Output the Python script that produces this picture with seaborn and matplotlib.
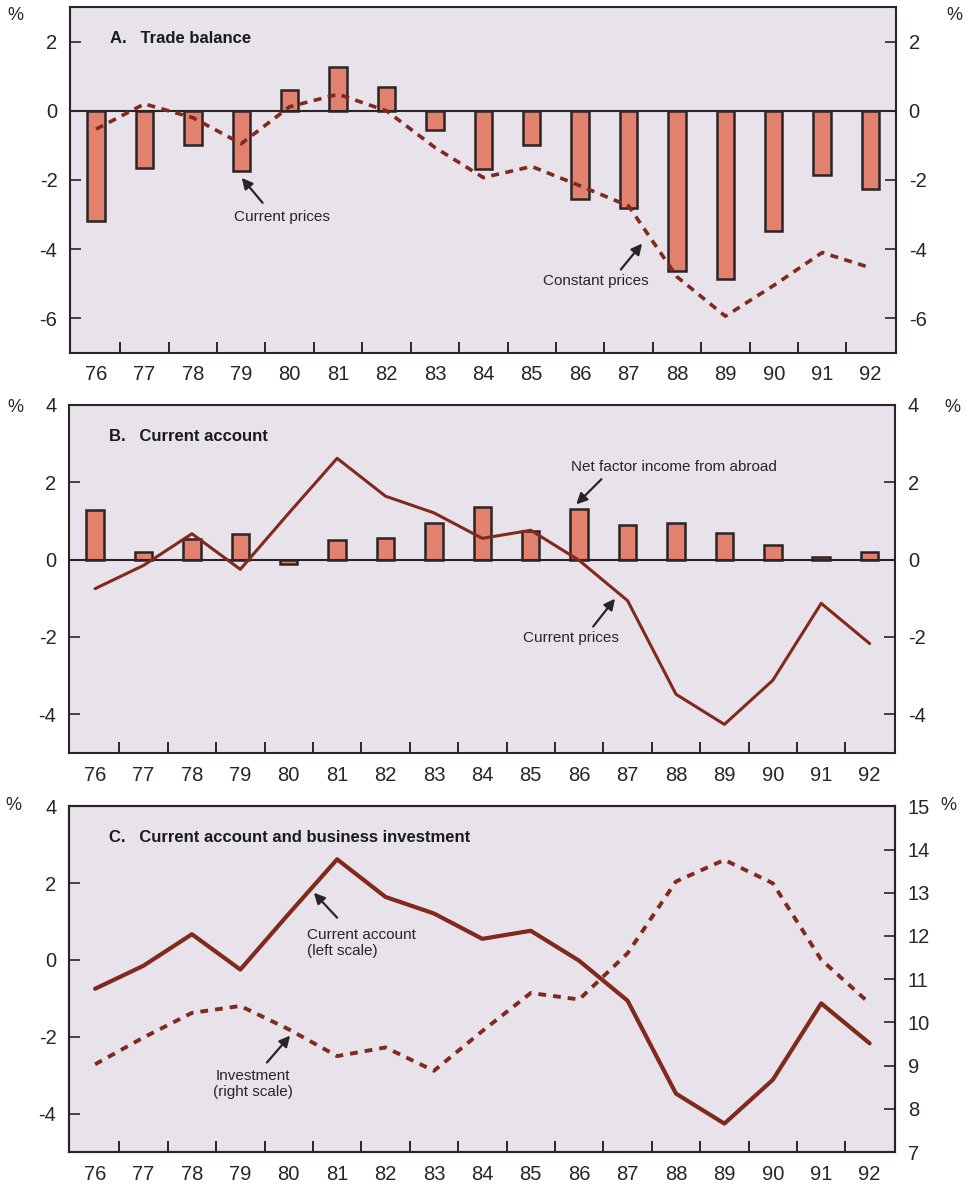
import numpy as np
import pandas as pd
import matplotlib
matplotlib.use("Agg")
import matplotlib.pyplot as plt
import seaborn as sns

# data
years = ['76', '77', '78', '79', '80', '81', '82', '83', '84',
         '85', '86', '87', '88', '89', '90', '91', '92']
trade_current = [-3.2, -1.64, -1.0, -1.74, 0.6, 1.28, 0.68, -0.56, -1.69,
                 -0.99, -2.56, -2.8, -4.64, -4.85, -3.48, -1.86, -2.25]
trade_constant = [-0.53, 0.2, -0.2, -0.95, 0.12, 0.48, 0.0, -1.06, -1.93,
                  -1.61, -2.17, -2.75, -4.8, -5.94, -5.05, -4.1, -4.54]
net_factor = [1.28, 0.21, 0.53, 0.65, -0.1, 0.5, 0.55, 0.95, 1.35,
              0.73, 1.32, 0.9, 0.94, 0.69, 0.39, 0.08, 0.21]
current_account = [-0.75, -0.15, 0.67, -0.25, 1.2, 2.62, 1.64, 1.21, 0.55,
                   0.76, -0.02, -1.06, -3.48, -4.26, -3.12, -1.13, -2.17]
investment = [9.03, 9.65, 10.22, 10.38, 9.84, 9.22, 9.42, 8.88, 9.8,
              10.68, 10.53, 11.6, 13.26, 13.76, 13.22, 11.45, 10.44]

sns.set_theme(style="white")
plt.rcParams['font.family'] = ['Liberation Sans', 'DejaVu Sans']
plt.rcParams['axes.unicode_minus'] = False

BG = '#e8e2eb'
BAR = '#e2826e'
LINE = '#80291c'
INK = '#2a2426'

df = pd.DataFrame({'year': years, 'trade': trade_current, 'const': trade_constant,
                   'nfi': net_factor, 'ca': current_account, 'inv': investment})
df['pos'] = np.arange(len(df))

fig = plt.figure(figsize=(9.71, 11.84), dpi=100)
axA = fig.add_axes([0.072, 0.702, 0.851, 0.292])
axB = fig.add_axes([0.071, 0.364, 0.851, 0.294])
axC = fig.add_axes([0.071, 0.027, 0.851, 0.292])


def style_axes(ax, ymin, ymax, yticks, right_labels=True):
    ax.set_facecolor(BG)
    ax.set_xlim(-0.54, len(years) - 0.47)
    ax.set_ylim(ymin, ymax)
    ax.set_yticks(yticks)
    ax.set_xticks(np.arange(len(years)))
    ax.set_xticklabels(years)
    ax.set_xticks(np.arange(len(years) - 1) + 0.5, minor=True)
    ax.tick_params(axis='x', which='major', length=0, pad=9, labelsize=14.5, colors=INK)
    ax.tick_params(axis='x', which='minor', direction='in', length=8, width=1.4,
                   bottom=True, color=INK)
    ax.tick_params(axis='y', direction='in', length=8, width=1.2, labelsize=14.5,
                   left=True, right=right_labels, labelright=right_labels,
                   pad=9, colors=INK)
    for s in ax.spines.values():
        s.set_color(INK)
        s.set_linewidth(1.5)
    ax.set_xlabel('')
    ax.set_ylabel('')


def label(ax, text, pos, tail, head, ha='center'):
    ax.text(pos[0], pos[1], text, ha=ha, va='center', fontsize=11, color=INK,
            linespacing=1.25)
    ax.annotate('', xy=head, xytext=tail,
                arrowprops=dict(arrowstyle='-|>', color=INK, lw=1.6,
                                mutation_scale=16, shrinkA=0, shrinkB=0))


# Panel A
sns.barplot(data=df, x='year', y='trade', color=BAR, edgecolor=INK, linewidth=1.8,
            width=0.36, saturation=1, ax=axA)
sns.lineplot(data=df, x='pos', y='const', color=LINE, lw=2.6, ax=axA)
axA.lines[-1].set_linestyle((0, (2.2, 1.8)))
axA.axhline(0, color=INK, lw=1.5, zorder=1.5)
style_axes(axA, -7, 3, [-6, -4, -2, 0, 2])
axA.text(0.048, 0.908, 'A.   Trade balance', transform=axA.transAxes,
         fontsize=12, fontweight='bold', va='center', color='#1a1a1a')
label(axA, 'Current prices', (3.84, -3.07), (3.44, -2.66), (3.01, -1.94))
label(axA, 'Constant prices', (10.32, -4.93), (10.84, -4.59), (11.28, -3.84))

# Panel B
sns.barplot(data=df, x='year', y='nfi', color=BAR, edgecolor=INK, linewidth=1.8,
            width=0.36, saturation=1, ax=axB)
sns.lineplot(data=df, x='pos', y='ca', color=LINE, lw=2.2, ax=axB)
axB.axhline(0, color=INK, lw=1.5, zorder=1.5)
style_axes(axB, -5, 4, [-4, -2, 0, 2, 4])
axB.text(0.048, 0.909, 'B.   Current account', transform=axB.transAxes,
         fontsize=12, fontweight='bold', va='center', color='#1a1a1a')
label(axB, 'Net factor income from abroad', (11.95, 2.4), (10.46, 2.08), (9.94, 1.43))
label(axB, 'Current prices', (9.82, -2.03), (10.29, -1.73), (10.74, -1.01))

# Panel C
sns.lineplot(data=df, x='pos', y='ca', color=LINE, lw=3.0, ax=axC)
style_axes(axC, -5, 4, [-4, -2, 0, 2, 4], right_labels=False)
axC2 = axC.twinx()
sns.lineplot(data=df, x='pos', y='inv', color=LINE, lw=2.8, ax=axC2)
axC2.lines[-1].set_linestyle((0, (2.0, 1.8)))
axC2.set_ylim(7, 15)
axC2.set_yticks(range(7, 16))
axC2.set_ylabel('')
axC2.tick_params(axis='y', direction='in', length=8, width=1.2, labelsize=14.5,
                 pad=9, colors=INK)
axC2.grid(False)
for s in axC2.spines.values():
    s.set_color(INK)
    s.set_linewidth(1.5)
axC.text(0.048, 0.911, 'C.   Current account and business investment',
         transform=axC.transAxes, fontsize=12, fontweight='bold', va='center',
         color='#1a1a1a')
label(axC, 'Current account\n(left scale)', (4.37, 0.44), (5.0, 1.1), (4.52, 1.75),
      ha='left')
label(axC, 'Investment\n(right scale)', (3.26, -3.23), (3.55, -2.67), (4.03, -1.97))

# percent markers
for x, y in [(0.016, 0.987), (0.983, 0.987), (0.016, 0.656), (0.981, 0.656),
             (0.014, 0.320), (0.977, 0.320)]:
    fig.text(x, y, '%', ha='center', va='center', fontsize=13, color=INK)

fig.savefig('out.png', dpi=100, facecolor='white')
